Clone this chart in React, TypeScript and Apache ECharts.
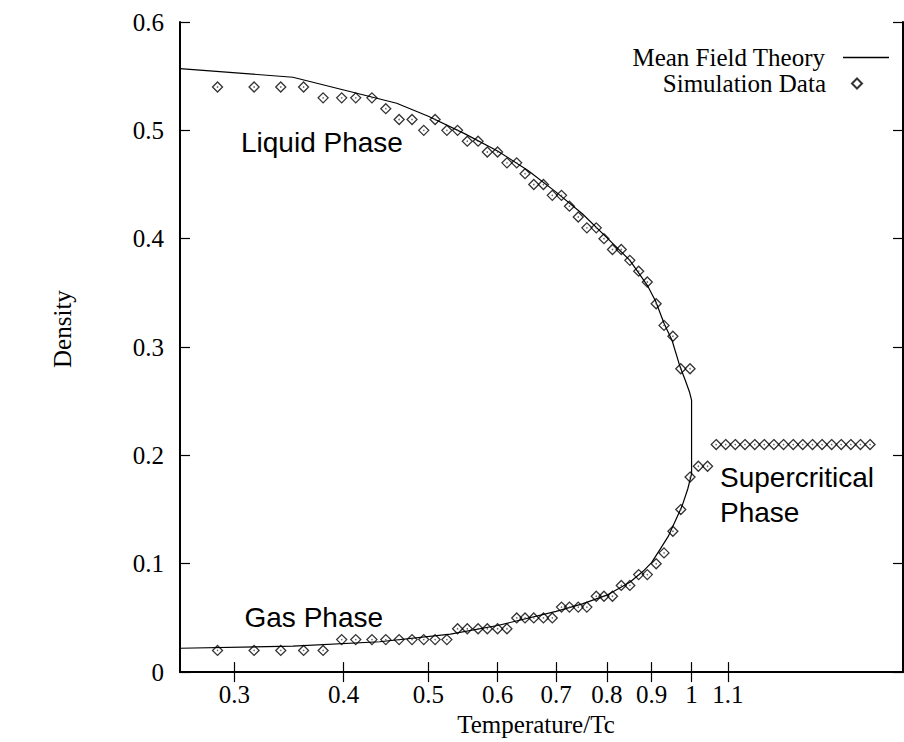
import React, { useEffect, useRef } from "react";
import * as echarts from "echarts";

// Simulation temperatures (T/Tc) below the critical point
const simTemps = [
  0.287, 0.316, 0.339, 0.36, 0.379, 0.398, 0.413, 0.431, 0.447, 0.463, 0.479,
  0.494, 0.509, 0.525, 0.54, 0.554, 0.57, 0.584, 0.6, 0.615, 0.631, 0.645,
  0.66, 0.677, 0.693, 0.71, 0.725, 0.742, 0.759, 0.778, 0.794, 0.812, 0.831,
  0.85, 0.87, 0.89, 0.911, 0.93, 0.952, 0.972, 0.996,
];
const liquidDensity = [
  0.54, 0.54, 0.54, 0.54, 0.53, 0.53, 0.53, 0.53, 0.52, 0.51, 0.51, 0.5, 0.51,
  0.5, 0.5, 0.49, 0.49, 0.48, 0.48, 0.47, 0.47, 0.46, 0.45, 0.45, 0.44, 0.44,
  0.43, 0.42, 0.41, 0.41, 0.4, 0.39, 0.39, 0.38, 0.37, 0.36, 0.34, 0.32, 0.31,
  0.28, 0.28,
];
const gasDensity = [
  0.02, 0.02, 0.02, 0.02, 0.02, 0.03, 0.03, 0.03, 0.03, 0.03, 0.03, 0.03, 0.03,
  0.03, 0.04, 0.04, 0.04, 0.04, 0.04, 0.04, 0.05, 0.05, 0.05, 0.05, 0.05, 0.06,
  0.06, 0.06, 0.06, 0.07, 0.07, 0.07, 0.08, 0.08, 0.09, 0.09, 0.1, 0.11, 0.13,
  0.15, 0.18,
];
const nearCritTemps = [1.018, 1.043];
const nearCritDensity = [0.19, 0.19];
const superTemps = [
  1.067, 1.094, 1.122, 1.151, 1.181, 1.211, 1.242, 1.274, 1.307, 1.34, 1.375,
  1.41, 1.446, 1.483, 1.521, 1.56, 1.6,
];
const superDensity = [
  0.21, 0.21, 0.21, 0.21, 0.21, 0.21, 0.21, 0.21, 0.21, 0.21, 0.21, 0.21, 0.21,
  0.21, 0.21, 0.21, 0.21,
];

// Mean field theory coexistence curve
const mfUpperTemps = [
  0.26, 0.35, 0.46, 0.5, 0.55, 0.6, 0.65, 0.7, 0.75, 0.8, 0.85, 0.89, 0.91,
  0.93, 0.95, 0.97, 0.985, 0.995, 1.0,
];
const mfUpperDensity = [
  0.557, 0.549, 0.525, 0.513, 0.497, 0.481, 0.463, 0.443, 0.423, 0.401, 0.38,
  0.357, 0.342, 0.322, 0.306, 0.282, 0.268, 0.258, 0.251,
];
const mfLowerTemps = [
  1.0, 0.99, 0.975, 0.96, 0.94, 0.92, 0.9, 0.88, 0.85, 0.8, 0.75, 0.7, 0.6,
  0.53, 0.44, 0.35, 0.26,
];
const mfLowerDensity = [
  0.183, 0.169, 0.153, 0.141, 0.125, 0.113, 0.101, 0.093, 0.083, 0.071, 0.063,
  0.056, 0.043, 0.035, 0.028, 0.024, 0.022,
];

const xTickValues = [0.3, 0.4, 0.5, 0.6, 0.7, 0.8, 0.9, 1, 1.1];

const SERIF = "'Liberation Serif', 'Times New Roman', serif";
const SANS = "'Liberation Sans', Arial, sans-serif";

export default function App() {
  const ref = useRef<HTMLDivElement>(null);

  useEffect(() => {
    if (!ref.current) return;
    const chart = echarts.init(ref.current, null, { renderer: "svg" });

    const simData: number[][] = [];
    simTemps.forEach((t, i) => simData.push([t, liquidDensity[i]]));
    simTemps.forEach((t, i) => simData.push([t, gasDensity[i]]));
    nearCritTemps.forEach((t, i) => simData.push([t, nearCritDensity[i]]));
    superTemps.forEach((t, i) => simData.push([t, superDensity[i]]));

    const mfData: number[][] = [];
    mfUpperTemps.forEach((t, i) => mfData.push([t, mfUpperDensity[i]]));
    mfLowerTemps.forEach((t, i) => mfData.push([t, mfLowerDensity[i]]));

    const axisLine = { show: true, lineStyle: { color: "#000", width: 2 } };
    const tick = { show: true, inside: true, length: 10, lineStyle: { color: "#000", width: 1.2 } };
    const fmt = (v: number) => String(Math.round(v * 100) / 100);

    chart.setOption({
      animation: false,
      backgroundColor: "#fff",
      grid: { left: 180, top: 22, right: 1, bottom: 65, containLabel: false },
      xAxis: [
        {
          type: "log",
          logBase: 10,
          min: 0.26,
          max: 1.745,
          position: "bottom",
          axisLine,
          axisTick: { ...tick, customValues: xTickValues },
          minorTick: { show: false },
          splitLine: { show: false },
          axisLabel: {
            customValues: xTickValues,
            formatter: fmt,
            margin: 10,
            fontFamily: SERIF,
            fontSize: 25,
            color: "#000",
          },
          name: "Temperature/Tc",
          nameLocation: "middle",
          nameGap: 32,
          nameTextStyle: { fontFamily: SERIF, fontSize: 25, color: "#000", padding: [0, 11, 0, 0] },
        },
        {
          type: "log",
          logBase: 10,
          min: 0.26,
          max: 1.745,
          position: "top",
          axisLine,
          axisTick: { ...tick, customValues: xTickValues },
          splitLine: { show: false },
          axisLabel: { show: false, customValues: xTickValues },
        },
      ],
      yAxis: [
        {
          type: "value",
          min: 0,
          max: 0.6,
          interval: 0.1,
          position: "left",
          axisLine,
          axisTick: tick,
          splitLine: { show: false },
          axisLabel: { margin: 16, fontFamily: SERIF, fontSize: 25, color: "#000", formatter: fmt },
          name: "Density",
          nameLocation: "middle",
          nameGap: 105,
          nameTextStyle: { fontFamily: SERIF, fontSize: 25, color: "#000", padding: [0, 0, 0, 36] },
        },
        {
          type: "value",
          min: 0,
          max: 0.6,
          interval: 0.1,
          position: "right",
          axisLine,
          axisTick: tick,
          splitLine: { show: false },
          axisLabel: { show: false },
        },
      ],
      legend: [
        {
          data: [{ name: "Mean Field Theory", icon: "rect" }],
          right: 15,
          top: 45,
          align: "right",
          orient: "vertical",
          itemWidth: 46,
          itemHeight: 1.3,
          padding: 0,
          selectedMode: false,
          textStyle: { fontFamily: SERIF, fontSize: 25, color: "#000", padding: [0, 13, 0, 0] },
        },
        {
          data: ["Simulation Data"],
          right: 41,
          top: 71,
          align: "right",
          orient: "vertical",
          itemWidth: 10,
          itemHeight: 10,
          padding: 0,
          selectedMode: false,
          textStyle: { fontFamily: SERIF, fontSize: 25, color: "#000", padding: [0, 21, 0, 0] },
        },
      ],
      series: [
        {
          name: "Mean Field Theory",
          type: "line",
          xAxisIndex: 0,
          yAxisIndex: 0,
          data: mfData,
          symbol: "none",
          lineStyle: { color: "#000", width: 1.2 },
          itemStyle: { color: "#000" },
          z: 2,
        },
        {
          name: "Simulation Data",
          type: "scatter",
          xAxisIndex: 0,
          yAxisIndex: 0,
          data: simData,
          symbol: "diamond",
          symbolSize: 10,
          itemStyle: { color: "rgba(255,255,255,0)", borderColor: "#000", borderWidth: 1.3 },
          z: 3,
        },
        {
          name: "points-center",
          type: "scatter",
          xAxisIndex: 0,
          yAxisIndex: 0,
          data: simData,
          symbol: "circle",
          symbolSize: 1.6,
          silent: true,
          itemStyle: { color: "#444" },
          z: 4,
        },
      ],
      graphic: [
        {
          type: "text",
          x: 241,
          y: 142,
          style: { text: "Liquid Phase", font: `28px ${SANS}`, fill: "#000", verticalAlign: "middle", align: "left" },
        },
        {
          type: "text",
          x: 244.5,
          y: 617.3,
          style: { text: "Gas Phase", font: `28px ${SANS}`, fill: "#000", verticalAlign: "middle", align: "left" },
        },
        {
          type: "text",
          x: 720,
          y: 495,
          style: {
            text: "Supercritical\nPhase",
            font: `28px ${SANS}`,
            lineHeight: 34.3,
            fill: "#000",
            verticalAlign: "middle",
            align: "left",
          },
        },
      ],
    });

    return () => chart.dispose();
  }, []);

  return (
    <div
      ref={ref}
      style={{ position: "fixed", left: 0, top: 0, width: 904, height: 742, background: "#fff" }}
    />
  );
}
